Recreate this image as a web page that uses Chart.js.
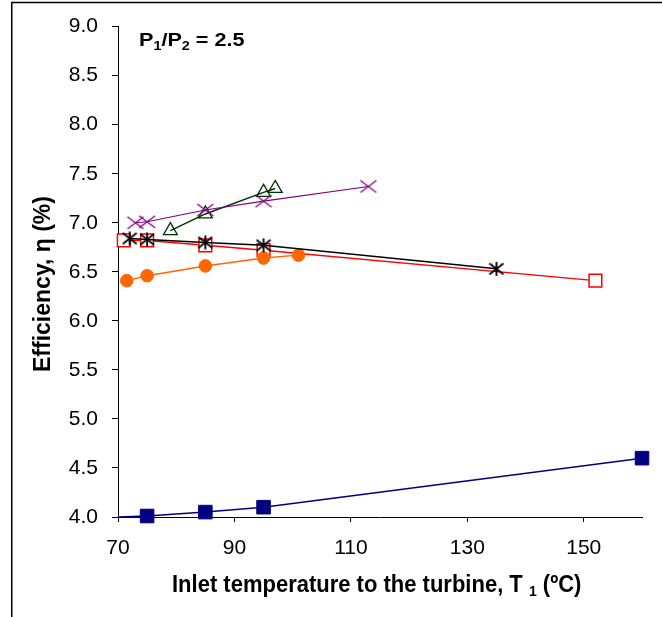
<!DOCTYPE html>
<html>
<head>
<meta charset="utf-8">
<script src="https://cdn.jsdelivr.net/npm/chart.js@4.4.0/dist/chart.umd.min.js"></script>
<style>
  html, body { margin: 0; padding: 0; background: #fff; }
  #wrap { width: 662px; height: 617px; }
</style>
</head>
<body>
<div id="wrap"><canvas id="effChart" width="662" height="617"></canvas></div>
<script>
// Tick labels
const xTicks = [70, 90, 110, 130, 150];
const yTicks = [4.0, 4.5, 5.0, 5.5, 6.0, 6.5, 7.0, 7.5, 8.0, 8.5, 9.0];

// Inlet temperature T1 (ºC) and efficiency (%) per series
const blueT = [65, 75, 85, 95, 160];
const blueEff = [3.99, 4.01, 4.05, 4.10, 4.60];
const redT = [71, 75, 85, 95, 152];
const redEff = [6.82, 6.82, 6.77, 6.72, 6.41];
const blackT = [72, 75, 85, 95, 135];
const blackEff = [6.84, 6.83, 6.80, 6.77, 6.53];
const orangeT = [71.5, 75, 85, 95, 101];
const orangeEff = [6.41, 6.46, 6.56, 6.64, 6.67];
const greenT = [79, 85, 95, 97];
const greenEff = [6.92, 7.09, 7.31, 7.35];
const purpleT = [73, 75, 85, 95, 113];
const purpleEff = [7.00, 7.01, 7.13, 7.22, 7.37];

const FONT = "'Liberation Sans', Arial, sans-serif";

function pts(xs, ys) {
  return xs.map((x, i) => ({ x: x, y: ys[i] }));
}

// asterisk marker (x plus vertical bar)
function makeAsterisk() {
  const c = document.createElement("canvas");
  c.width = 16;
  c.height = 16;
  const g = c.getContext("2d");
  g.strokeStyle = "#000";
  g.lineWidth = 1.8;
  g.beginPath();
  g.moveTo(8, 1);
  g.lineTo(8, 15);
  g.moveTo(1, 2.5);
  g.lineTo(15, 13.5);
  g.moveTo(15, 2.5);
  g.lineTo(1, 13.5);
  g.stroke();
  return c;
}

// wide x marker
function makeCross() {
  const c = document.createElement("canvas");
  c.width = 18;
  c.height = 14;
  const g = c.getContext("2d");
  g.strokeStyle = "#800080";
  g.lineWidth = 1.3;
  g.beginPath();
  g.moveTo(1, 1);
  g.lineTo(17, 13);
  g.moveTo(17, 1);
  g.lineTo(1, 13);
  g.stroke();
  return c;
}

function drawRuns(ctx, runs, x, y, sx, sy) {
  ctx.save();
  ctx.translate(x, y);
  ctx.scale(sx, sy);
  ctx.fillStyle = "#000";
  ctx.textAlign = "left";
  ctx.textBaseline = "alphabetic";
  let cx = 0;
  runs.forEach((r) => {
    ctx.font = r.font;
    ctx.fillText(r.t, cx, r.dy || 0);
    cx += ctx.measureText(r.t).width;
  });
  ctx.restore();
}

// frame, annotation and axis titles
const textPlugin = {
  id: "textPlugin",
  beforeDraw(chart) {
    const ctx = chart.ctx;
    ctx.save();
    ctx.strokeStyle = "#000";
    ctx.lineWidth = 1.5;
    ctx.beginPath();
    ctx.moveTo(11.75, 617);
    ctx.lineTo(11.75, 2.5);
    ctx.lineTo(662, 2.5);
    ctx.stroke();
    ctx.restore();
  },
  afterDraw(chart) {
    const ctx = chart.ctx;
    const big = "bold 18px " + FONT;
    const sub = "bold 12px " + FONT;
    drawRuns(ctx, [
      { t: "P", font: big },
      { t: "1", font: sub, dy: 4 },
      { t: "/P", font: big },
      { t: "2", font: sub, dy: 4 },
      { t: " = 2.5", font: big },
    ], 139, 46, 1.2, 1);

    const xt = "bold 22px " + FONT;
    const xs = "bold 14px " + FONT;
    drawRuns(ctx, [
      { t: "Inlet temperature to the turbine, T ", font: xt },
      { t: "1", font: xs, dy: 4 },
      { t: " (ºC)", font: xt },
    ], 172, 592, 1, 1.1);

    ctx.save();
    ctx.translate(44, 284);
    ctx.rotate(-Math.PI / 2);
    ctx.font = "bold 23px " + FONT;
    ctx.fillStyle = "#000";
    ctx.textAlign = "center";
    ctx.textBaseline = "middle";
    ctx.fillText("Efficiency, η (%)", 0, 0);
    ctx.restore();
  },
};

const asterisk = makeAsterisk();
const cross = makeCross();

new Chart(document.getElementById("effChart"), {
  type: "scatter",
  data: {
    datasets: [
      {
        data: pts(purpleT, purpleEff),
        showLine: true,
        borderColor: "#800080",
        borderWidth: 1.2,
        pointStyle: cross,
        clip: false,
        order: 1,
      },
      {
        data: pts(greenT, greenEff),
        showLine: true,
        borderColor: "#003300",
        borderWidth: 1.5,
        pointStyle: "triangle",
        pointRadius: 8,
        pointBackgroundColor: "rgba(255,255,255,0)",
        pointBorderColor: "#003300",
        pointBorderWidth: 1.3,
        clip: false,
        order: 2,
      },
      {
        data: pts(blackT, blackEff),
        showLine: true,
        borderColor: "#000",
        borderWidth: 1.5,
        pointStyle: asterisk,
        clip: false,
        order: 3,
      },
      {
        data: pts(orangeT, orangeEff),
        showLine: true,
        borderColor: "#FF6600",
        borderWidth: 1.5,
        pointStyle: "circle",
        pointRadius: 6.3,
        pointBackgroundColor: "#FF6600",
        pointBorderColor: "#FF6600",
        pointBorderWidth: 1,
        clip: false,
        order: 4,
      },
      {
        data: pts(redT, redEff),
        showLine: true,
        borderColor: "#FF0000",
        borderWidth: 1.5,
        pointStyle: "rect",
        pointRadius: 9,
        pointBackgroundColor: "#fff",
        pointBorderColor: "#FF0000",
        pointBorderWidth: 1.5,
        clip: false,
        order: 5,
      },
      {
        data: pts(blueT, blueEff),
        showLine: true,
        borderColor: "#000080",
        borderWidth: 1.5,
        pointStyle: "rect",
        pointRadius: 9.6,
        pointBackgroundColor: "#000080",
        pointBorderColor: "#000080",
        pointBorderWidth: 1,
        clip: { left: 0, top: false, right: false, bottom: false },
        order: 6,
      },
    ],
  },
  options: {
    responsive: false,
    animation: false,
    layout: {
      padding: { top: 26, right: 20, left: 0, bottom: 0 },
    },
    plugins: {
      legend: { display: false },
      tooltip: { enabled: false },
    },
    elements: {
      line: { tension: 0 },
    },
    scales: {
      x: {
        type: "linear",
        min: 70,
        max: 160,
        afterBuildTicks: (axis) => {
          axis.ticks = xTicks.map((v) => ({ value: v }));
        },
        afterFit: (axis) => {
          axis.height = 100;
        },
        grid: {
          display: true,
          drawOnChartArea: false,
          tickLength: 5,
          color: "#000",
        },
        border: { color: "#000", width: 1 },
        ticks: {
          color: "#000",
          font: { family: FONT, size: 21 },
          padding: 14,
          maxRotation: 0,
          autoSkip: false,
        },
      },
      y: {
        type: "linear",
        min: 4,
        max: 9,
        afterBuildTicks: (axis) => {
          axis.ticks = yTicks.map((v) => ({ value: v }));
        },
        afterFit: (axis) => {
          axis.width = 118;
        },
        grid: {
          display: true,
          drawOnChartArea: false,
          tickLength: 6,
          color: "#000",
        },
        border: { color: "#000", width: 1 },
        ticks: {
          color: "#000",
          font: { family: FONT, size: 21 },
          padding: 14,
          autoSkip: false,
          callback: (v) => v.toFixed(1),
        },
      },
    },
  },
  plugins: [textPlugin],
});
</script>
</body>
</html>
